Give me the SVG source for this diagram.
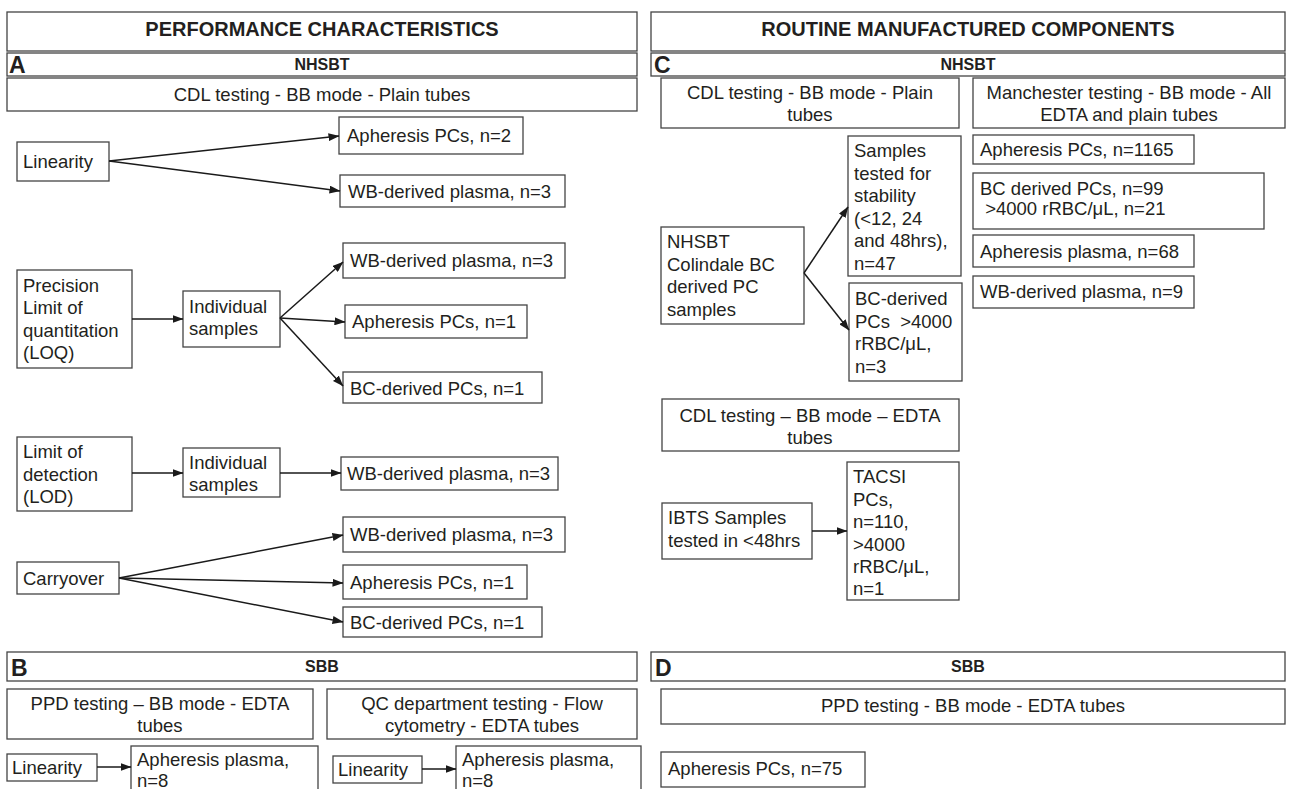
<svg xmlns="http://www.w3.org/2000/svg" width="1292" height="789" viewBox="0 0 1292 789">
<defs>
<marker id="ah" markerWidth="11" markerHeight="8" refX="10.5" refY="4" orient="auto" markerUnits="userSpaceOnUse">
<path d="M0,0 L11,4 L0,8 Z" fill="#1a1a1a"/>
</marker>
<style>
rect{fill:#fff;stroke:#444;stroke-width:1.3}
text{font-family:"Liberation Sans",Arial,sans-serif;fill:#231f20;font-size:18.5px;white-space:pre}
.h{font-weight:bold;font-size:20px;text-anchor:middle}
.s{font-weight:bold;font-size:16px;text-anchor:middle}
.l{font-weight:bold;font-size:23px}
.c{text-anchor:middle}
.cn line{stroke:#1a1a1a;stroke-width:1.5;marker-end:url(#ah)}
</style>
</defs>
<rect x="0" y="0" width="1292" height="789" style="fill:#fff;stroke:none"/>

<!-- headers -->
<g id="hdr-left"><rect x="7" y="12" width="630" height="39"/><text class="h" x="322" y="36">PERFORMANCE CHARACTERISTICS</text></g>
<g id="hdr-right"><rect x="651" y="12" width="634" height="39"/><text class="h" x="968" y="36">ROUTINE MANUFACTURED COMPONENTS</text></g>
<g id="hdr-a"><rect x="7" y="53" width="630" height="23"/><text class="l" x="9" y="73">A</text><text class="s" x="322" y="70">NHSBT</text></g>
<g id="hdr-c"><rect x="651" y="53" width="634" height="23"/><text class="l" x="654" y="73">C</text><text class="s" x="968" y="70">NHSBT</text></g>
<g id="hdr-b"><rect x="7" y="652" width="630" height="29"/><text class="l" x="11" y="676">B</text><text class="s" x="322" y="672">SBB</text></g>
<g id="hdr-d"><rect x="651" y="652" width="634" height="29"/><text class="l" x="655" y="676">D</text><text class="s" x="968" y="672">SBB</text></g>

<!-- section A -->
<g id="a-cdl"><rect x="7" y="78" width="630" height="33"/><text class="c" x="322" y="101">CDL testing - BB mode - Plain tubes</text></g>
<g id="a-lin"><rect x="17" y="142" width="92" height="39"/><text x="23" y="168">Linearity</text></g>
<g id="a-aph2"><rect x="339" y="117" width="184" height="37"/><text x="347" y="142">Apheresis PCs, n=2</text></g>
<g id="a-wb1"><rect x="340" y="175" width="225" height="32"/><text x="348" y="198">WB-derived plasma, n=3</text></g>
<g id="a-prec"><rect x="17" y="270" width="115" height="98"/><text x="23" y="292">Precision</text><text x="23" y="314">Limit of</text><text x="23" y="337">quantitation</text><text x="23" y="359">(LOQ)</text></g>
<g id="a-ind1"><rect x="183" y="291" width="97" height="56"/><text x="189" y="313">Individual</text><text x="189" y="335">samples</text></g>
<g id="a-wb2"><rect x="343" y="243" width="222" height="35"/><text x="350" y="267">WB-derived plasma, n=3</text></g>
<g id="a-aph1"><rect x="345" y="305" width="182" height="33"/><text x="352" y="328">Apheresis PCs, n=1</text></g>
<g id="a-bc1"><rect x="343" y="372" width="199" height="31"/><text x="350" y="395">BC-derived PCs, n=1</text></g>
<g id="a-lod"><rect x="17" y="437" width="115" height="74"/><text x="23" y="458">Limit of</text><text x="23" y="481">detection</text><text x="23" y="503">(LOD)</text></g>
<g id="a-ind2"><rect x="183" y="448" width="97" height="49"/><text x="189" y="469">Individual</text><text x="189" y="491">samples</text></g>
<g id="a-wb3"><rect x="341" y="457" width="217" height="33"/><text x="347" y="480">WB-derived plasma, n=3</text></g>
<g id="a-carry"><rect x="17" y="562" width="102" height="32"/><text x="23" y="585">Carryover</text></g>
<g id="a-wb4"><rect x="343" y="517" width="222" height="35"/><text x="350" y="541">WB-derived plasma, n=3</text></g>
<g id="a-aph3"><rect x="343" y="565" width="184" height="34"/><text x="350" y="589">Apheresis PCs, n=1</text></g>
<g id="a-bc2"><rect x="343" y="607" width="199" height="30"/><text x="350" y="629">BC-derived PCs, n=1</text></g>

<!-- section B -->
<g id="b-ppd"><rect x="7" y="689" width="306" height="50"/><text class="c" x="160" y="710">PPD testing – BB mode - EDTA</text><text class="c" x="160" y="732">tubes</text></g>
<g id="b-qc"><rect x="327" y="689" width="310" height="50"/><text class="c" x="482" y="710">QC department testing - Flow</text><text class="c" x="482" y="732">cytometry - EDTA tubes</text></g>
<g id="b-lin1"><rect x="7" y="754" width="90" height="27"/><text x="12" y="774">Linearity</text></g>
<g id="b-aph1"><rect x="131" y="746" width="187" height="50"/><text x="137" y="766">Apheresis plasma,</text><text x="137" y="787">n=8</text></g>
<g id="b-lin2"><rect x="333" y="756" width="89" height="27"/><text x="338" y="776">Linearity</text></g>
<g id="b-aph2"><rect x="456" y="746" width="185" height="50"/><text x="462" y="766">Apheresis plasma,</text><text x="462" y="787">n=8</text></g>

<!-- section C -->
<g id="c-cdl1"><rect x="661" y="78" width="298" height="50"/><text class="c" x="810" y="99">CDL testing - BB mode - Plain</text><text class="c" x="810" y="121">tubes</text></g>
<g id="c-man"><rect x="973" y="78" width="312" height="50"/><text class="c" x="1129" y="99">Manchester testing - BB mode - All</text><text class="c" x="1129" y="121">EDTA and plain tubes</text></g>
<g id="c-col"><rect x="661" y="227" width="143" height="97"/><text x="667" y="248">NHSBT</text><text x="667" y="271">Colindale BC</text><text x="667" y="293">derived PC</text><text x="667" y="316">samples</text></g>
<g id="c-stab"><rect x="848" y="136" width="113" height="140"/><text x="854" y="157">Samples</text><text x="854" y="180">tested for</text><text x="854" y="202">stability</text><text x="854" y="225">(&lt;12, 24</text><text x="854" y="247">and 48hrs),</text><text x="854" y="270">n=47</text></g>
<g id="c-bc"><rect x="849" y="283" width="113" height="98"/><text x="855" y="305">BC-derived</text><text x="855" y="328">PCs  &gt;4000</text><text x="855" y="350">rRBC/μL,</text><text x="855" y="373">n=3</text></g>
<g id="c-cdl2"><rect x="662" y="399" width="297" height="52"/><text class="c" x="810" y="422">CDL testing – BB mode – EDTA</text><text class="c" x="810" y="444">tubes</text></g>
<g id="c-ibts"><rect x="662" y="503" width="150" height="56"/><text x="668" y="524">IBTS Samples</text><text x="668" y="547">tested in &lt;48hrs</text></g>
<g id="c-tacsi"><rect x="847" y="462" width="112" height="138"/><text x="853" y="483">TACSI</text><text x="853" y="506">PCs,</text><text x="853" y="528">n=110,</text><text x="853" y="551">&gt;4000</text><text x="853" y="573">rRBC/μL,</text><text x="853" y="595">n=1</text></g>
<g id="c-aph"><rect x="973" y="135" width="221" height="29"/><text x="980" y="156">Apheresis PCs, n=1165</text></g>
<g id="c-bcd"><rect x="973" y="173" width="291" height="56"/><text x="980" y="195">BC derived PCs, n=99</text><text x="980" y="215"> &gt;4000 rRBC/μL, n=21</text></g>
<g id="c-aplas"><rect x="973" y="235" width="221" height="32"/><text x="980" y="258">Apheresis plasma, n=68</text></g>
<g id="c-wb"><rect x="973" y="276" width="221" height="32"/><text x="980" y="298">WB-derived plasma, n=9</text></g>

<!-- section D -->
<g id="d-ppd"><rect x="661" y="689" width="624" height="35"/><text class="c" x="973" y="712">PPD testing - BB mode - EDTA tubes</text></g>
<g id="d-aph"><rect x="661" y="752" width="204" height="35"/><text x="668" y="775">Apheresis PCs, n=75</text></g>

<!-- connectors -->
<g id="connectors" class="cn">
<line x1="109" y1="161" x2="339" y2="136"/>
<line x1="109" y1="161" x2="340" y2="191"/>
<line x1="132" y1="319" x2="183" y2="319"/>
<line x1="280" y1="318" x2="343" y2="262"/>
<line x1="280" y1="318" x2="345" y2="322"/>
<line x1="280" y1="318" x2="343" y2="386"/>
<line x1="132" y1="473" x2="183" y2="473"/>
<line x1="280" y1="473" x2="341" y2="473"/>
<line x1="119" y1="578" x2="343" y2="535"/>
<line x1="119" y1="578" x2="343" y2="583"/>
<line x1="119" y1="578" x2="343" y2="622"/>
<line x1="97" y1="767" x2="131" y2="767"/>
<line x1="422" y1="769" x2="456" y2="769"/>
<line x1="804" y1="273" x2="848" y2="207"/>
<line x1="804" y1="273" x2="849" y2="330"/>
<line x1="812" y1="531" x2="847" y2="531"/>
</g>
</svg>
